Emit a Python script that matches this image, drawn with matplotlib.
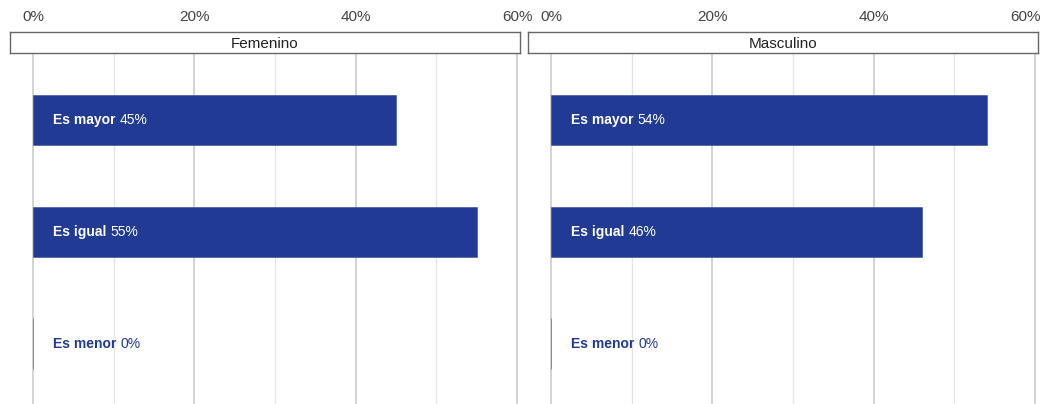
import matplotlib.pyplot as plt
import matplotlib.transforms as mtransforms

plt.rcParams['font.family'] = ['Liberation Sans', 'DejaVu Sans']

panels = ['Femenino', 'Masculino']
categories = ['Es mayor', 'Es igual', 'Es menor']
femenino = [45, 55, 0]
masculino = [54, 46, 0]
values = [femenino, masculino]
major_ticks = [0, 20, 40, 60]
minor_ticks = [10, 30, 50]
tick_labels = ['0%', '20%', '40%', '60%']

bar_color = '#213a94'

fig = plt.figure(figsize=(10.42, 4.04), dpi=100)
W, H = 1042, 404
lefts = [10, 528]
pw = 510

for i in range(2):
    ax = fig.add_axes([lefts[i] / W, 0, pw / W, (H - 53) / H])
    vals = values[i]
    ypos = list(range(len(categories)))
    ax.barh(ypos, vals, height=0.45, color=bar_color, edgecolor=(0.13, 0.23, 0.58, 0.5),
            linewidth=0.7, zorder=2)
    ax.set_ylim(2.54, -0.6)
    ax.set_xlim(-2.85, 60.37)
    ax.set_xticks(major_ticks, labels=tick_labels)
    ax.set_xticks(minor_ticks, minor=True)
    ax.xaxis.tick_top()
    ax.tick_params(axis='x', which='both', length=0, pad=21, labelsize=11, labelcolor='#444444')
    ax.set_yticks([])
    ax.grid(axis='x', which='major', color='#cccccc', linewidth=1.2, zorder=0)
    ax.grid(axis='x', which='minor', color='#e6e6e6', linewidth=1.0, zorder=0)
    for s in ax.spines.values():
        s.set_visible(False)
    for y, cat, v in zip(ypos, categories, vals):
        c = 'white' if v > 10 else bar_color
        t = ax.text(2.5, y, cat, color=c, fontsize=10, fontweight='bold', va='center', ha='left', zorder=3)
        ax.annotate(f'{v}%', xy=(1, 0), xycoords=t, xytext=(3, 0), textcoords='offset points',
                    color=c, fontsize=10, va='bottom', ha='left', zorder=3)
    if i == 1:
        # keep the last tick label inside the picture
        last = ax.xaxis.get_major_ticks()[-1].label2
        shift = mtransforms.ScaledTranslation(-10 / 100, 0, fig.dpi_scale_trans)
        last.set_transform(last.get_transform() + shift)
    # strip label box
    sax = fig.add_axes([lefts[i] / W, (H - 53) / H, pw / W, 21 / H])
    sax.set_xticks([])
    sax.set_yticks([])
    for s in sax.spines.values():
        s.set_color('#666666')
        s.set_linewidth(1)
    sax.text(0.5, 0.45, panels[i], ha='center', va='center', fontsize=11, color='#222222',
             transform=sax.transAxes)

fig.savefig('out.png', dpi=100)
